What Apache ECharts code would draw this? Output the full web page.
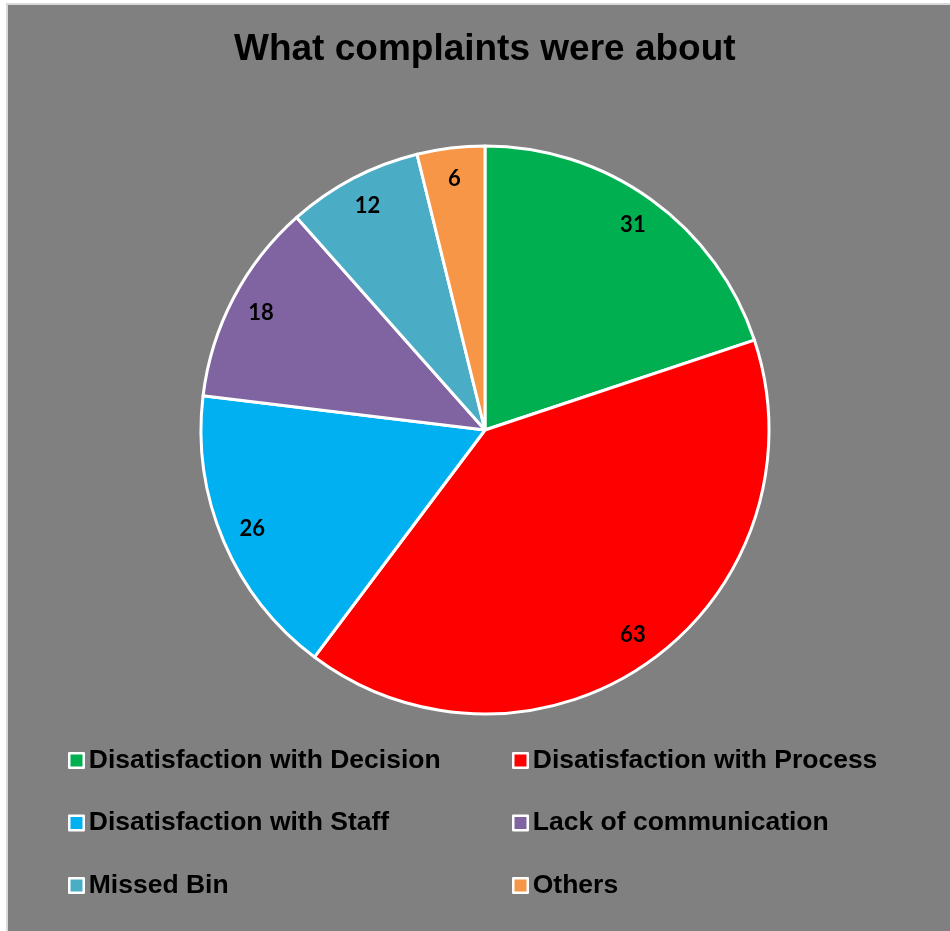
<!DOCTYPE html>
<html>
<head>
<meta charset="utf-8">
<script src="https://cdn.jsdelivr.net/npm/echarts@6/dist/echarts.min.js"></script>
<style>
  html, body { margin: 0; padding: 0; background: #ffffff; }
  #chart { width: 950px; height: 931px; }
</style>
</head>
<body>
<div id="chart"></div>
<script>
// Complaint categories and counts
const categories = [
  'Disatisfaction with Decision',
  'Disatisfaction with Process',
  'Disatisfaction with Staff',
  'Lack of communication',
  'Missed Bin',
  'Others'
];
const counts = [31, 63, 26, 18, 12, 6];
const sliceColors = ['#00B050', '#FF0000', '#00B0F0', '#8064A2', '#4BACC6', '#F79646'];

const pieData = categories.map((name, i) => ({
  name: name,
  value: counts[i],
  itemStyle: { color: sliceColors[i] }
}));

const legendLeftCol = [categories[0], categories[2], categories[4]];
const legendRightCol = [categories[1], categories[3], categories[5]];

const legendCommon = {
  orient: 'vertical',
  top: 747,
  padding: 0,
  itemWidth: 14.5,
  itemHeight: 14.5,
  itemGap: 35.5,
  icon: 'rect',
  selectedMode: false,
  itemStyle: { borderColor: '#ffffff', borderWidth: 2.5 },
  textStyle: {
    fontFamily: '"Liberation Sans", Arial, sans-serif',
    fontWeight: 'bold',
    fontSize: 26.5,
    lineHeight: 26,
    color: '#000000'
  }
};

const center = [485, 430];
const radius = 284;

const chart = echarts.init(document.getElementById('chart'), null, { renderer: 'canvas' });
chart.setOption({
  backgroundColor: '#ffffff',
  animation: false,
  graphic: [{
    type: 'rect',
    z: -10,
    shape: { x: 7, y: 4, width: 960, height: 940 },
    style: { fill: '#808080', stroke: '#d9d9d9', lineWidth: 2 }
  }],
  title: {
    text: 'What complaints were about',
    left: 229,
    top: 26,
    textStyle: {
      fontFamily: '"Liberation Sans", Arial, sans-serif',
      fontWeight: 'bold',
      fontSize: 37,
      color: '#000000'
    }
  },
  legend: [
    Object.assign({}, legendCommon, { left: 68, data: legendLeftCol }),
    Object.assign({}, legendCommon, { left: 512, data: legendRightCol })
  ],
  series: [
    {
      // slices
      type: 'pie',
      center: center,
      radius: [0, radius],
      startAngle: 90,
      clockwise: true,
      silent: true,
      data: pieData,
      itemStyle: { borderColor: '#ffffff', borderWidth: 3 },
      label: { show: false },
      labelLine: { show: false }
    },
    {
      // value labels placed near the rim
      type: 'pie',
      center: center,
      radius: [radius - 68, radius],
      startAngle: 90,
      clockwise: true,
      silent: true,
      legendHoverLink: false,
      data: pieData.map(d => ({ name: d.name, value: d.value })),
      itemStyle: { color: 'rgba(0,0,0,0)', borderWidth: 0 },
      label: {
        show: true,
        position: 'inside',
        formatter: '{c}',
        fontFamily: 'Lato, "Open Sans", sans-serif',
        fontWeight: 'bold',
        fontSize: 22,
        color: '#000000'
      },
      labelLine: { show: false }
    }
  ]
});
</script>
</body>
</html>
